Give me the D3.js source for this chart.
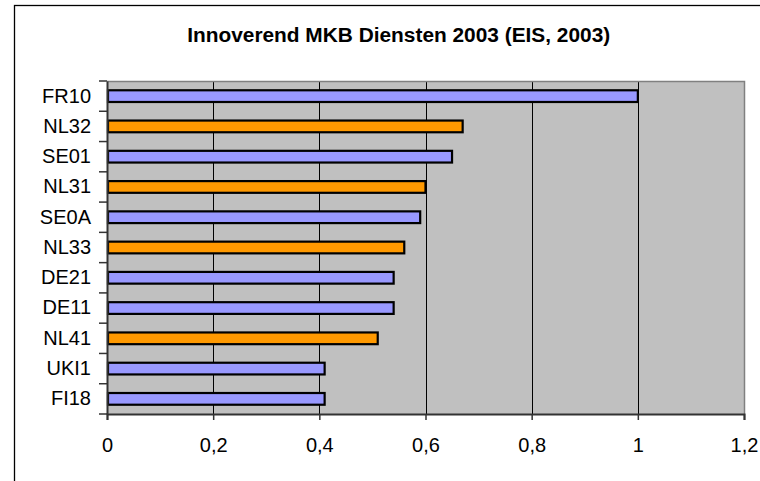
<!DOCTYPE html>
<html><head><meta charset="utf-8">
<script src="https://cdn.jsdelivr.net/npm/d3@7"></script>
<style>body{margin:0;background:#fff}svg{display:block}</style>
</head><body>
<script>
const categories = ["FR10","NL32","SE01","NL31","SE0A","NL33","DE21","DE11","NL41","UKI1","FI18"];
const values = [1.0,0.67,0.65,0.60,0.59,0.56,0.54,0.54,0.51,0.41,0.41];
const groups = ["fr","nl","se","nl","se","nl","de","de","nl","uk","fi"];
const tickValues = [0,0.2,0.4,0.6,0.8,1,1.2];
const title = "Innoverend MKB Diensten 2003 (EIS, 2003)";

const W=760,H=481;
const FONT="Liberation Sans, Arial, sans-serif";
const svg=d3.select("body").append("svg").attr("width",W).attr("height",H);
svg.append("rect").attr("width",W).attr("height",H).attr("fill","#fff");
// outer frame
svg.append("rect").attr("x",14.5).attr("y",5.5).attr("width",800).attr("height",600)
  .attr("fill","none").attr("stroke","#000").attr("stroke-width",1.3);

const L=107,R=744,T=81,B=414;
const x=d3.scaleLinear().domain([0,1.2]).range([L,R]);
const y=d3.scaleBand().domain(categories).range([T,B]).paddingInner(0.58).paddingOuter(0.29);
const yb=d3.scaleBand().domain(categories).range([T,B]);

svg.append("rect").attr("x",L).attr("y",T).attr("width",R-L).attr("height",B-T).attr("fill","#c0c0c0");
// gridlines
svg.append("g").selectAll("line").data(tickValues.filter(v=>v>0&&v<1.2)).join("line")
  .attr("x1",d=>Math.round(x(d))+0.5).attr("x2",d=>Math.round(x(d))+0.5)
  .attr("y1",T).attr("y2",B).attr("stroke","#000").attr("stroke-width",1);
// plot border top/right gray
svg.append("path").attr("d",`M${L},${T+0.5}H${R+0.5}V${B}`).attr("fill","none").attr("stroke","#808080").attr("stroke-width",1.5);

const fill={nl:"#ff9900"};
svg.append("g").selectAll("rect").data(categories).join("rect")
  .attr("x",x(0)+1).attr("y",d=>y(d)+0.5)
  .attr("width",(d,i)=>x(values[i])-x(0)-1).attr("height",y.bandwidth()-1)
  .attr("fill",(d,i)=>fill[groups[i]]||"#9999ff").attr("stroke","#000").attr("stroke-width",2.2);

// x axis
const xa=svg.append("g").attr("transform",`translate(0,${B})`)
  .call(d3.axisBottom(x).tickValues(tickValues).tickSize(6).tickPadding(18)
    .tickFormat(d=>String(d).replace(".",",")));
xa.select(".domain").attr("stroke","#333").attr("stroke-width",2);
xa.selectAll(".tick line").attr("stroke","#333").attr("stroke-width",1.5);
xa.selectAll("text").attr("font-family",FONT).attr("font-size",20).attr("fill","#000");

// y axis
const ya=svg.append("g").attr("transform",`translate(${L},0)`)
  .call(d3.axisLeft(y).tickSize(0).tickPadding(16));
ya.select(".domain").attr("stroke","#333").attr("stroke-width",2);
ya.selectAll("text").attr("font-family",FONT).attr("font-size",20).attr("fill","#000");
// band boundary ticks
ya.append("g").selectAll("line").data(categories.concat(["end"])).join("line")
  .attr("x1",-8).attr("x2",0)
  .attr("y1",(d,i)=>i<categories.length?yb(d):B).attr("y2",(d,i)=>i<categories.length?yb(d):B)
  .attr("stroke","#333").attr("stroke-width",1.5);

svg.append("text").attr("x",398.7).attr("y",41.5).attr("text-anchor","middle")
  .attr("font-family",FONT).attr("font-weight","bold").attr("font-size",19.5)
  .attr("textLength",423).attr("lengthAdjust","spacingAndGlyphs")
  .text(title);
</script>
</body></html>
